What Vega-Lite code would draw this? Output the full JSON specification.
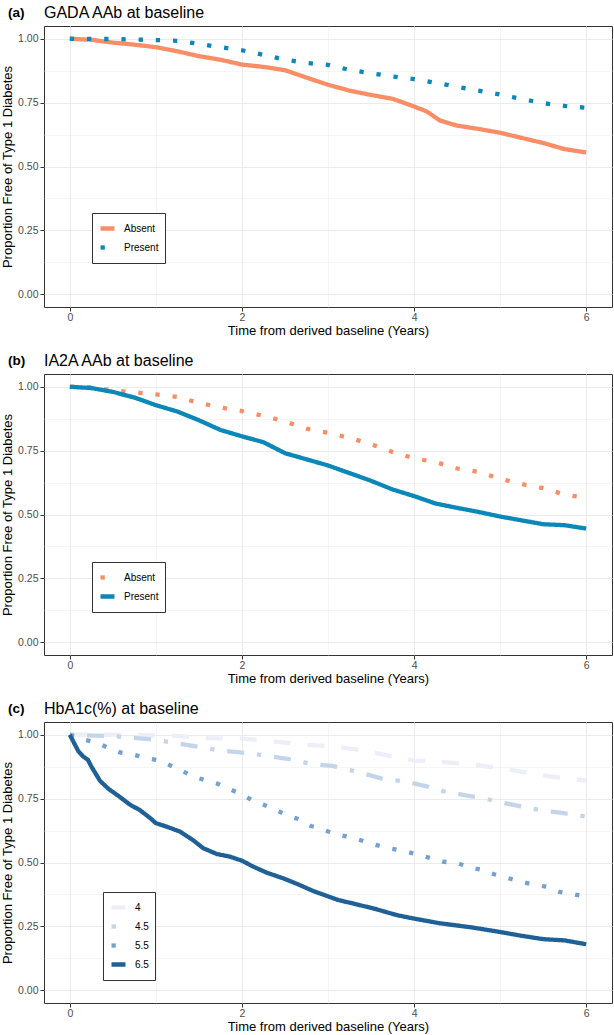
{
  "$schema": "https://vega.github.io/schema/vega-lite/v6.json",
  "padding": {"left": 1, "top": 4, "right": 0, "bottom": 0},
  "background": "white",
  "spacing": 14,
  "resolve": {
    "scale": {"color": "independent", "strokeDash": "independent"},
    "legend": {"color": "independent", "strokeDash": "independent"}
  },
  "config": {
    "font": "Liberation Sans",
    "view": {"stroke": "#333333", "strokeWidth": 1},
    "concat": {"spacing": 14},
    "title": {"font": "Liberation Sans", "anchor": "start", "color": "black", "baseline": "alphabetic"},
    "axis": {
      "domain": false,
      "grid": true,
      "gridColor": "#EBEBEB",
      "tickColor": "#333333",
      "tickSize": 4,
      "labelColor": "#4D4D4D",
      "labelFont": "Liberation Sans",
      "labelFontSize": 10.5,
      "labelPadding": 2,
      "titleFont": "Liberation Sans",
      "titleFontSize": 13,
      "titleFontWeight": "normal",
      "titleColor": "black"
    },
    "axisX": {"titlePadding": 2, "labelPadding": 1},
    "axisY": {"titlePadding": 3},
    "legend": {
      "orient": "none",
      "strokeColor": "#333333",
      "fillColor": "white",
      "padding": 6,
      "labelFont": "Liberation Sans",
      "labelFontSize": 10,
      "labelColor": "black",
      "labelOffset": 7,
      "symbolType": "stroke",
      "symbolStrokeWidth": 4.3,
      "symbolSize": 196,
      "rowPadding": 0
    }
  },
  "datasets": {
    "a": [
      {"t": 0, "s": 1.0, "group": "Absent"},
      {"t": 0.25, "s": 0.996, "group": "Absent"},
      {"t": 0.5, "s": 0.985, "group": "Absent"},
      {"t": 0.75, "s": 0.977, "group": "Absent"},
      {"t": 1.0, "s": 0.967, "group": "Absent"},
      {"t": 1.25, "s": 0.951, "group": "Absent"},
      {"t": 1.5, "s": 0.932, "group": "Absent"},
      {"t": 1.75, "s": 0.918, "group": "Absent"},
      {"t": 2.0, "s": 0.899, "group": "Absent"},
      {"t": 2.25, "s": 0.89, "group": "Absent"},
      {"t": 2.5, "s": 0.877, "group": "Absent"},
      {"t": 2.75, "s": 0.848, "group": "Absent"},
      {"t": 3.0, "s": 0.82, "group": "Absent"},
      {"t": 3.25, "s": 0.797, "group": "Absent"},
      {"t": 3.5, "s": 0.78, "group": "Absent"},
      {"t": 3.75, "s": 0.765, "group": "Absent"},
      {"t": 4.0, "s": 0.735, "group": "Absent"},
      {"t": 4.15, "s": 0.715, "group": "Absent"},
      {"t": 4.3, "s": 0.68, "group": "Absent"},
      {"t": 4.5, "s": 0.66, "group": "Absent"},
      {"t": 4.75, "s": 0.647, "group": "Absent"},
      {"t": 5.0, "s": 0.632, "group": "Absent"},
      {"t": 5.25, "s": 0.612, "group": "Absent"},
      {"t": 5.5, "s": 0.592, "group": "Absent"},
      {"t": 5.75, "s": 0.568, "group": "Absent"},
      {"t": 6.0, "s": 0.555, "group": "Absent"},
      {"t": 0, "s": 1.0, "group": "Present"},
      {"t": 0.5, "s": 0.999, "group": "Present"},
      {"t": 1.0, "s": 0.995, "group": "Present"},
      {"t": 1.25, "s": 0.992, "group": "Present"},
      {"t": 1.5, "s": 0.98, "group": "Present"},
      {"t": 1.75, "s": 0.967, "group": "Present"},
      {"t": 2.0, "s": 0.955, "group": "Present"},
      {"t": 2.25, "s": 0.937, "group": "Present"},
      {"t": 2.5, "s": 0.918, "group": "Present"},
      {"t": 2.75, "s": 0.905, "group": "Present"},
      {"t": 3.0, "s": 0.898, "group": "Present"},
      {"t": 3.25, "s": 0.878, "group": "Present"},
      {"t": 3.5, "s": 0.865, "group": "Present"},
      {"t": 3.75, "s": 0.852, "group": "Present"},
      {"t": 4.0, "s": 0.842, "group": "Present"},
      {"t": 4.25, "s": 0.828, "group": "Present"},
      {"t": 4.5, "s": 0.812, "group": "Present"},
      {"t": 4.75, "s": 0.797, "group": "Present"},
      {"t": 5.0, "s": 0.782, "group": "Present"},
      {"t": 5.25, "s": 0.764, "group": "Present"},
      {"t": 5.5, "s": 0.748, "group": "Present"},
      {"t": 5.75, "s": 0.737, "group": "Present"},
      {"t": 6.0, "s": 0.73, "group": "Present"}
    ],
    "b": [
      {"t": 0, "s": 1.0, "group": "Absent"},
      {"t": 0.25, "s": 0.998, "group": "Absent"},
      {"t": 0.5, "s": 0.986, "group": "Absent"},
      {"t": 0.75, "s": 0.978, "group": "Absent"},
      {"t": 1.0, "s": 0.97, "group": "Absent"},
      {"t": 1.25, "s": 0.96, "group": "Absent"},
      {"t": 1.5, "s": 0.937, "group": "Absent"},
      {"t": 1.75, "s": 0.919, "group": "Absent"},
      {"t": 2.0, "s": 0.905, "group": "Absent"},
      {"t": 2.25, "s": 0.886, "group": "Absent"},
      {"t": 2.5, "s": 0.864, "group": "Absent"},
      {"t": 2.75, "s": 0.836, "group": "Absent"},
      {"t": 3.0, "s": 0.82, "group": "Absent"},
      {"t": 3.25, "s": 0.8, "group": "Absent"},
      {"t": 3.5, "s": 0.775, "group": "Absent"},
      {"t": 3.75, "s": 0.745, "group": "Absent"},
      {"t": 4.0, "s": 0.72, "group": "Absent"},
      {"t": 4.25, "s": 0.705, "group": "Absent"},
      {"t": 4.5, "s": 0.68, "group": "Absent"},
      {"t": 4.75, "s": 0.667, "group": "Absent"},
      {"t": 5.0, "s": 0.64, "group": "Absent"},
      {"t": 5.25, "s": 0.619, "group": "Absent"},
      {"t": 5.5, "s": 0.603, "group": "Absent"},
      {"t": 5.75, "s": 0.578, "group": "Absent"},
      {"t": 6.0, "s": 0.565, "group": "Absent"},
      {"t": 0, "s": 1.0, "group": "Present"},
      {"t": 0.25, "s": 0.995, "group": "Present"},
      {"t": 0.5, "s": 0.98, "group": "Present"},
      {"t": 0.75, "s": 0.958, "group": "Present"},
      {"t": 1.0, "s": 0.928, "group": "Present"},
      {"t": 1.25, "s": 0.903, "group": "Present"},
      {"t": 1.5, "s": 0.869, "group": "Present"},
      {"t": 1.75, "s": 0.831, "group": "Present"},
      {"t": 2.0, "s": 0.806, "group": "Present"},
      {"t": 2.25, "s": 0.783, "group": "Present"},
      {"t": 2.5, "s": 0.74, "group": "Present"},
      {"t": 2.75, "s": 0.716, "group": "Present"},
      {"t": 3.0, "s": 0.692, "group": "Present"},
      {"t": 3.25, "s": 0.662, "group": "Present"},
      {"t": 3.5, "s": 0.632, "group": "Present"},
      {"t": 3.75, "s": 0.598, "group": "Present"},
      {"t": 4.0, "s": 0.572, "group": "Present"},
      {"t": 4.25, "s": 0.543, "group": "Present"},
      {"t": 4.5, "s": 0.526, "group": "Present"},
      {"t": 4.75, "s": 0.51, "group": "Present"},
      {"t": 5.0, "s": 0.492, "group": "Present"},
      {"t": 5.25, "s": 0.477, "group": "Present"},
      {"t": 5.5, "s": 0.462, "group": "Present"},
      {"t": 5.75, "s": 0.458, "group": "Present"},
      {"t": 6.0, "s": 0.445, "group": "Present"}
    ],
    "c": [
      {"t": 0, "s": 1.0, "group": "4"},
      {"t": 0.5, "s": 1.0, "group": "4"},
      {"t": 1.0, "s": 0.997, "group": "4"},
      {"t": 1.25, "s": 0.995, "group": "4"},
      {"t": 1.6, "s": 0.987, "group": "4"},
      {"t": 2.0, "s": 0.985, "group": "4"},
      {"t": 2.35, "s": 0.974, "group": "4"},
      {"t": 2.75, "s": 0.961, "group": "4"},
      {"t": 3.1, "s": 0.953, "group": "4"},
      {"t": 3.4, "s": 0.939, "group": "4"},
      {"t": 3.7, "s": 0.918, "group": "4"},
      {"t": 4.0, "s": 0.899, "group": "4"},
      {"t": 4.35, "s": 0.893, "group": "4"},
      {"t": 4.72, "s": 0.882, "group": "4"},
      {"t": 5.08, "s": 0.865, "group": "4"},
      {"t": 5.4, "s": 0.846, "group": "4"},
      {"t": 5.75, "s": 0.83, "group": "4"},
      {"t": 6.0, "s": 0.821, "group": "4"},
      {"t": 0, "s": 1.0, "group": "4.5"},
      {"t": 0.5, "s": 0.995, "group": "4.5"},
      {"t": 1.0, "s": 0.98, "group": "4.5"},
      {"t": 1.25, "s": 0.967, "group": "4.5"},
      {"t": 1.7, "s": 0.941, "group": "4.5"},
      {"t": 1.95, "s": 0.932, "group": "4.5"},
      {"t": 2.15, "s": 0.925, "group": "4.5"},
      {"t": 2.6, "s": 0.902, "group": "4.5"},
      {"t": 2.8, "s": 0.886, "group": "4.5"},
      {"t": 3.05, "s": 0.878, "group": "4.5"},
      {"t": 3.28, "s": 0.86, "group": "4.5"},
      {"t": 3.47, "s": 0.843, "group": "4.5"},
      {"t": 3.65, "s": 0.826, "group": "4.5"},
      {"t": 3.9, "s": 0.817, "group": "4.5"},
      {"t": 4.16, "s": 0.797, "group": "4.5"},
      {"t": 4.35, "s": 0.778, "group": "4.5"},
      {"t": 4.6, "s": 0.763, "group": "4.5"},
      {"t": 4.85, "s": 0.748, "group": "4.5"},
      {"t": 5.0, "s": 0.736, "group": "4.5"},
      {"t": 5.25, "s": 0.719, "group": "4.5"},
      {"t": 5.5, "s": 0.703, "group": "4.5"},
      {"t": 5.7, "s": 0.695, "group": "4.5"},
      {"t": 6.0, "s": 0.68, "group": "4.5"},
      {"t": 0, "s": 1.0, "group": "5.5"},
      {"t": 0.18, "s": 0.98, "group": "5.5"},
      {"t": 0.31, "s": 0.97, "group": "5.5"},
      {"t": 0.45, "s": 0.948, "group": "5.5"},
      {"t": 0.58, "s": 0.931, "group": "5.5"},
      {"t": 0.74, "s": 0.922, "group": "5.5"},
      {"t": 0.89, "s": 0.909, "group": "5.5"},
      {"t": 1.05, "s": 0.899, "group": "5.5"},
      {"t": 1.18, "s": 0.878, "group": "5.5"},
      {"t": 1.32, "s": 0.856, "group": "5.5"},
      {"t": 1.45, "s": 0.834, "group": "5.5"},
      {"t": 1.59, "s": 0.821, "group": "5.5"},
      {"t": 1.72, "s": 0.808, "group": "5.5"},
      {"t": 1.88, "s": 0.784, "group": "5.5"},
      {"t": 2.0, "s": 0.767, "group": "5.5"},
      {"t": 2.13, "s": 0.741, "group": "5.5"},
      {"t": 2.26, "s": 0.725, "group": "5.5"},
      {"t": 2.4, "s": 0.706, "group": "5.5"},
      {"t": 2.53, "s": 0.682, "group": "5.5"},
      {"t": 2.67, "s": 0.669, "group": "5.5"},
      {"t": 2.8, "s": 0.643, "group": "5.5"},
      {"t": 2.94, "s": 0.63, "group": "5.5"},
      {"t": 3.07, "s": 0.612, "group": "5.5"},
      {"t": 3.26, "s": 0.599, "group": "5.5"},
      {"t": 3.4, "s": 0.585, "group": "5.5"},
      {"t": 3.55, "s": 0.569, "group": "5.5"},
      {"t": 3.71, "s": 0.556, "group": "5.5"},
      {"t": 3.87, "s": 0.545, "group": "5.5"},
      {"t": 4.03, "s": 0.533, "group": "5.5"},
      {"t": 4.17, "s": 0.519, "group": "5.5"},
      {"t": 4.33, "s": 0.503, "group": "5.5"},
      {"t": 4.5, "s": 0.499, "group": "5.5"},
      {"t": 4.63, "s": 0.481, "group": "5.5"},
      {"t": 4.79, "s": 0.471, "group": "5.5"},
      {"t": 4.93, "s": 0.454, "group": "5.5"},
      {"t": 5.08, "s": 0.44, "group": "5.5"},
      {"t": 5.24, "s": 0.425, "group": "5.5"},
      {"t": 5.38, "s": 0.414, "group": "5.5"},
      {"t": 5.54, "s": 0.405, "group": "5.5"},
      {"t": 5.69, "s": 0.385, "group": "5.5"},
      {"t": 5.85, "s": 0.376, "group": "5.5"},
      {"t": 6.0, "s": 0.366, "group": "5.5"},
      {"t": 0, "s": 1.0, "group": "6.5"},
      {"t": 0.06, "s": 0.961, "group": "6.5"},
      {"t": 0.1, "s": 0.935, "group": "6.5"},
      {"t": 0.155, "s": 0.915, "group": "6.5"},
      {"t": 0.21, "s": 0.902, "group": "6.5"},
      {"t": 0.25, "s": 0.876, "group": "6.5"},
      {"t": 0.35, "s": 0.82, "group": "6.5"},
      {"t": 0.45, "s": 0.788, "group": "6.5"},
      {"t": 0.56, "s": 0.762, "group": "6.5"},
      {"t": 0.7, "s": 0.726, "group": "6.5"},
      {"t": 0.81, "s": 0.706, "group": "6.5"},
      {"t": 0.93, "s": 0.675, "group": "6.5"},
      {"t": 1.0, "s": 0.654, "group": "6.5"},
      {"t": 1.12, "s": 0.641, "group": "6.5"},
      {"t": 1.28, "s": 0.621, "group": "6.5"},
      {"t": 1.43, "s": 0.588, "group": "6.5"},
      {"t": 1.55, "s": 0.556, "group": "6.5"},
      {"t": 1.71, "s": 0.533, "group": "6.5"},
      {"t": 1.86, "s": 0.523, "group": "6.5"},
      {"t": 2.0, "s": 0.507, "group": "6.5"},
      {"t": 2.13, "s": 0.484, "group": "6.5"},
      {"t": 2.29, "s": 0.46, "group": "6.5"},
      {"t": 2.48, "s": 0.438, "group": "6.5"},
      {"t": 2.67, "s": 0.412, "group": "6.5"},
      {"t": 2.83, "s": 0.388, "group": "6.5"},
      {"t": 2.98, "s": 0.37, "group": "6.5"},
      {"t": 3.12, "s": 0.353, "group": "6.5"},
      {"t": 3.26, "s": 0.342, "group": "6.5"},
      {"t": 3.53, "s": 0.32, "group": "6.5"},
      {"t": 3.8, "s": 0.294, "group": "6.5"},
      {"t": 3.99, "s": 0.281, "group": "6.5"},
      {"t": 4.3, "s": 0.262, "group": "6.5"},
      {"t": 4.65, "s": 0.247, "group": "6.5"},
      {"t": 5.0, "s": 0.228, "group": "6.5"},
      {"t": 5.25, "s": 0.213, "group": "6.5"},
      {"t": 5.5, "s": 0.2, "group": "6.5"},
      {"t": 5.75, "s": 0.195, "group": "6.5"},
      {"t": 6.0, "s": 0.18, "group": "6.5"}
    ]
  },
  "vconcat": [
    {
      "title": {"text": "(a)", "frame": "bounds", "fontWeight": "bold", "fontSize": 13.5, "offset": -15, "dx": 7},
      "vconcat": [
        {
          "width": 568,
          "height": 281,
          "title": {"text": "GADA AAb at baseline", "frame": "group", "fontSize": 16, "fontWeight": "normal", "offset": 5},
          "data": {"name": "a"},
          "mark": {"type": "line", "strokeWidth": 4.3, "strokeCap": "butt", "clip": true},
          "encoding": {
            "x": {"field": "t", "type": "quantitative", "title": "Time from derived baseline (Years)",
              "scale": {"domain": [-0.3, 6.3], "nice": false, "zero": false},
              "axis": {"values": [0, 1, 2, 3, 4, 5, 6], "labelExpr": "datum.value % 2 === 0 ? format(datum.value, 'd') : ''",
                "tickOpacity": {"condition": {"test": "datum.value % 2 === 1", "value": 0}, "value": 1},
                "gridWidth": {"condition": {"test": "datum.value % 2 === 1", "value": 0.5}, "value": 1}}},
            "y": {"field": "s", "type": "quantitative", "title": "Proportion Free of Type 1 Diabetes",
              "scale": {"domain": [-0.05, 1.05], "nice": false, "zero": false},
              "axis": {"values": [0, 0.125, 0.25, 0.375, 0.5, 0.625, 0.75, 0.875, 1], "labelExpr": "(datum.value * 8) % 2 === 0 ? format(datum.value, '.2f') : ''",
                "tickOpacity": {"condition": {"test": "(datum.value * 8) % 2 === 1", "value": 0}, "value": 1},
                "gridWidth": {"condition": {"test": "(datum.value * 8) % 2 === 1", "value": 0.5}, "value": 1}}},
            "color": {"field": "group", "type": "nominal",
              "scale": {"domain": ["Absent", "Present"], "range": ["#F98E66", "#0B87B8"]},
              "legend": {"title": null, "legendX": 48, "legendY": 187}},
            "strokeDash": {"field": "group", "type": "nominal",
              "scale": {"domain": ["Absent", "Present"], "range": [[1, 0], [4.3, 12.9]]},
              "legend": {"title": null, "legendX": 48, "legendY": 187}}
          }
        }
      ]
    },
    {
      "title": {"text": "(b)", "frame": "bounds", "fontWeight": "bold", "fontSize": 13.5, "offset": -15, "dx": 7},
      "vconcat": [
        {
          "width": 568,
          "height": 281,
          "title": {"text": "IA2A AAb at baseline", "frame": "group", "fontSize": 16, "fontWeight": "normal", "offset": 5},
          "data": {"name": "b"},
          "mark": {"type": "line", "strokeWidth": 4.3, "strokeCap": "butt", "clip": true},
          "encoding": {
            "x": {"field": "t", "type": "quantitative", "title": "Time from derived baseline (Years)",
              "scale": {"domain": [-0.3, 6.3], "nice": false, "zero": false},
              "axis": {"values": [0, 1, 2, 3, 4, 5, 6], "labelExpr": "datum.value % 2 === 0 ? format(datum.value, 'd') : ''",
                "tickOpacity": {"condition": {"test": "datum.value % 2 === 1", "value": 0}, "value": 1},
                "gridWidth": {"condition": {"test": "datum.value % 2 === 1", "value": 0.5}, "value": 1}}},
            "y": {"field": "s", "type": "quantitative", "title": "Proportion Free of Type 1 Diabetes",
              "scale": {"domain": [-0.05, 1.05], "nice": false, "zero": false},
              "axis": {"values": [0, 0.125, 0.25, 0.375, 0.5, 0.625, 0.75, 0.875, 1], "labelExpr": "(datum.value * 8) % 2 === 0 ? format(datum.value, '.2f') : ''",
                "tickOpacity": {"condition": {"test": "(datum.value * 8) % 2 === 1", "value": 0}, "value": 1},
                "gridWidth": {"condition": {"test": "(datum.value * 8) % 2 === 1", "value": 0.5}, "value": 1}}},
            "color": {"field": "group", "type": "nominal",
              "scale": {"domain": ["Absent", "Present"], "range": ["#F98E66", "#0B87B8"]},
              "legend": {"title": null, "legendX": 48, "legendY": 188}},
            "strokeDash": {"field": "group", "type": "nominal",
              "scale": {"domain": ["Absent", "Present"], "range": [[4.3, 12.9], [1, 0]]},
              "legend": {"title": null, "legendX": 48, "legendY": 188}}
          }
        }
      ]
    },
    {
      "title": {"text": "(c)", "frame": "bounds", "fontWeight": "bold", "fontSize": 13.5, "offset": -15, "dx": 7},
      "vconcat": [
        {
          "width": 568,
          "height": 281,
          "title": {"text": "HbA1c(%) at baseline", "frame": "group", "fontSize": 16, "fontWeight": "normal", "offset": 5},
          "data": {"name": "c"},
          "mark": {"type": "line", "strokeWidth": 4.3, "strokeCap": "butt", "clip": true},
          "encoding": {
            "x": {"field": "t", "type": "quantitative", "title": "Time from derived baseline (Years)",
              "scale": {"domain": [-0.3, 6.3], "nice": false, "zero": false},
              "axis": {"values": [0, 1, 2, 3, 4, 5, 6], "labelExpr": "datum.value % 2 === 0 ? format(datum.value, 'd') : ''",
                "tickOpacity": {"condition": {"test": "datum.value % 2 === 1", "value": 0}, "value": 1},
                "gridWidth": {"condition": {"test": "datum.value % 2 === 1", "value": 0.5}, "value": 1}}},
            "y": {"field": "s", "type": "quantitative", "title": "Proportion Free of Type 1 Diabetes",
              "scale": {"domain": [-0.05, 1.05], "nice": false, "zero": false},
              "axis": {"values": [0, 0.125, 0.25, 0.375, 0.5, 0.625, 0.75, 0.875, 1], "labelExpr": "(datum.value * 8) % 2 === 0 ? format(datum.value, '.2f') : ''",
                "tickOpacity": {"condition": {"test": "(datum.value * 8) % 2 === 1", "value": 0}, "value": 1},
                "gridWidth": {"condition": {"test": "(datum.value * 8) % 2 === 1", "value": 0.5}, "value": 1}}},
            "color": {"field": "group", "type": "nominal",
              "scale": {"domain": ["4", "4.5", "5.5", "6.5"], "range": ["#ECEFF8", "#C5D5E9", "#76A1CD", "#1F6097"]},
              "legend": {"title": null, "legendX": 59, "legendY": 170}},
            "strokeDash": {"field": "group", "type": "nominal",
              "scale": {"domain": ["4", "4.5", "5.5", "6.5"], "range": [[17, 17], [4.3, 12.9, 17, 12.9], [4.3, 12.9], [1, 0]]},
              "legend": {"title": null, "legendX": 59, "legendY": 170}}
          }
        }
      ]
    }
  ]
}
